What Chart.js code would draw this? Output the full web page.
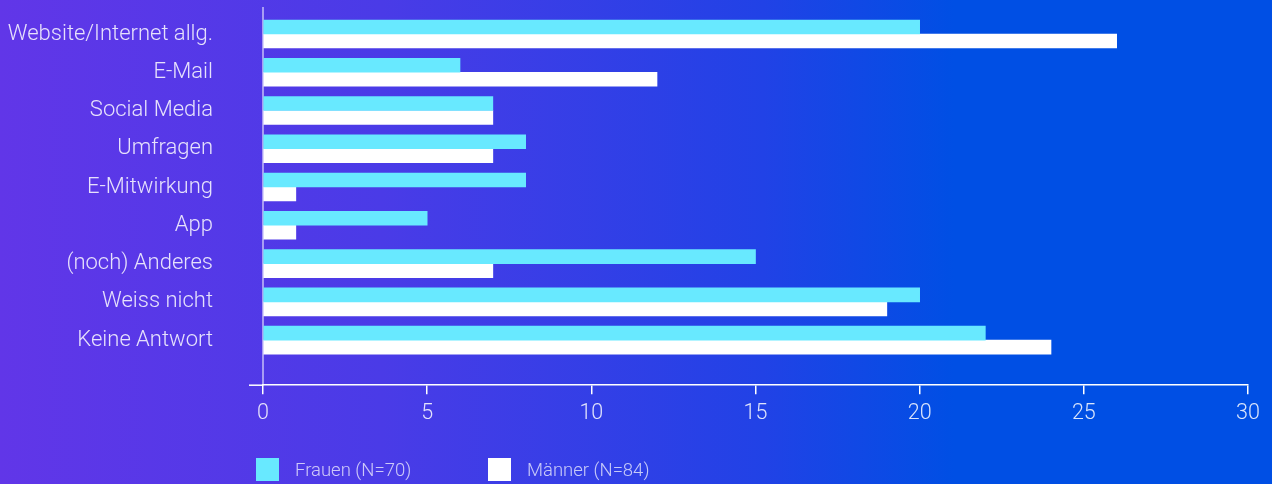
<!DOCTYPE html>
<html>
<head>
<meta charset="utf-8">
<script src="https://cdn.jsdelivr.net/npm/chart.js@4"></script>
<style>
  html, body { margin: 0; padding: 0; }
  body {
    width: 1272px; height: 484px; overflow: hidden; position: relative;
    background: linear-gradient(90deg, #6136e8 0%, #4a3be7 30%, #2142e6 60%, #004fe4 75%, #004fe4 100%);
    font-family: Roboto, "Liberation Sans", sans-serif;
  }
  #wrap { position: absolute; left: 0; top: 0; width: 1272px; height: 484px; }
  .legend { position: absolute; top: 458px; height: 23px; display: flex; align-items: center; color: rgba(255,255,255,0.72); font-size: 18.5px; font-weight: 300; }
  .legend span.box { width: 23px; height: 23px; display: inline-block; margin-right: 16px; }
</style>
</head>
<body>
<div id="wrap"><canvas id="myChart" width="1272" height="484"></canvas></div>
<div class="legend" style="left:256px"><span class="box" style="background:#68e9ff"></span>Frauen (N=70)</div>
<div class="legend" style="left:488px"><span class="box" style="background:#ffffff"></span>Männer (N=84)</div>
<script>
const categories = ['Website/Internet allg.', 'E-Mail', 'Social Media', 'Umfragen', 'E-Mitwirkung', 'App', '(noch) Anderes', 'Weiss nicht', 'Keine Antwort'];
const frauen = [20, 6, 7, 8, 8, 5, 15, 20, 22];
const maenner = [26, 12, 7, 7, 1, 1, 7, 19, 24];
const xTicks = [0, 5, 10, 15, 20, 25, 30];

const labelColor = 'rgba(255,255,255,0.85)';
const yFont = { family: 'Roboto, "Liberation Sans", sans-serif', size: 22, weight: 300 };
const xFont = { family: 'Roboto, "Liberation Sans", sans-serif', size: 21.5, weight: 300 };

function toPoints(values) {
    return values.map((v, i) => ({ x: v, y: i }));
}

// small extension of the x axis line to the left of the y axis
const axisStub = {
    id: 'axisStub',
    afterDraw(chart) {
        const { ctx, chartArea } = chart;
        ctx.save();
        ctx.strokeStyle = '#ffffff';
        ctx.lineWidth = 1.5;
        ctx.beginPath();
        ctx.moveTo(chartArea.left - 14, chartArea.bottom);
        ctx.lineTo(chartArea.left, chartArea.bottom);
        ctx.stroke();
        ctx.restore();
    }
};

const ctx = document.getElementById('myChart');
new Chart(ctx, {
    type: 'bar',
    data: {
        datasets: [{
            label: 'Frauen (N=70)',
            data: toPoints(frauen),
            backgroundColor: '#68e9ff',
            barThickness: 14
        }, {
            label: 'Männer (N=84)',
            data: toPoints(maenner),
            backgroundColor: '#ffffff',
            barThickness: 14
        }]
    },
    options: {
        indexAxis: 'y',
        responsive: false,
        animation: false,
        layout: { padding: { top: 8, right: 24, bottom: 50, left: 0 } },
        plugins: {
            legend: { display: false },
            tooltip: { enabled: false }
        },
        scales: {
            x: {
                type: 'linear',
                min: 0,
                max: 30,
                afterBuildTicks: axis => { axis.ticks = xTicks.map(v => ({ value: v })); },
                grid: { drawOnChartArea: false, drawTicks: true, tickLength: 9, color: '#ffffff', lineWidth: 1.5 },
                border: { display: true, color: '#ffffff', width: 1.5 },
                ticks: { color: labelColor, font: xFont, padding: 7, maxRotation: 0 }
            },
            y: {
                type: 'linear',
                reverse: true,
                offset: false,
                min: -0.68,
                max: 9.18,
                afterBuildTicks: axis => { axis.ticks = categories.map((c, i) => ({ value: i })); },
                afterFit: axis => {
                    axis.width = 263;
                    axis.paddingTop = 0;
                    axis.paddingBottom = 0;
                },
                grid: { display: false, drawTicks: false, offset: false },
                border: { display: true, color: 'rgba(255,255,255,0.5)', width: 2 },
                ticks: {
                    color: labelColor,
                    font: yFont,
                    padding: 50,
                    includeBounds: false,
                    callback: v => categories[v] || ''
                }
            }
        }
    },
    plugins: [axisStub]
});
</script>
</body>
</html>
